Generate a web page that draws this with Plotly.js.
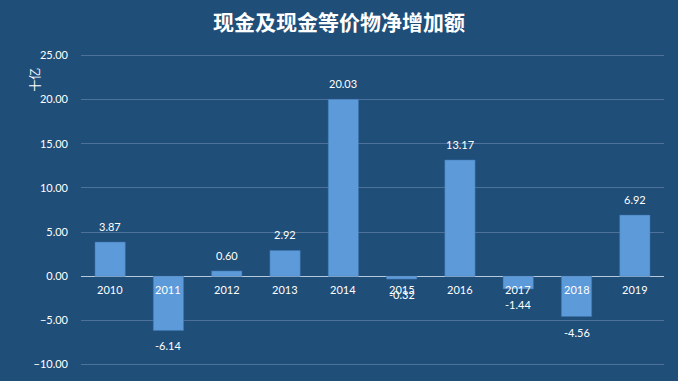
<!DOCTYPE html>
<html>
<head>
<meta charset="utf-8">
<script src="https://cdn.plot.ly/plotly-3.0.1.min.js"></script>
<style>html,body{margin:0;padding:0;background:#1f4e79;}#chart{width:678px;height:381px;}</style>
</head>
<body>
<div id="chart"></div>
<script>
const years = ["2010","2011","2012","2013","2014","2015","2016","2017","2018","2019"];
const values = [3.87, -6.14, 0.60, 2.92, 20.03, -0.32, 13.17, -1.44, -4.56, 6.92];
const yTicks = [-10, -5, 0, 5, 10, 15, 20, 25];
const titleText = "现金及现金等价物净增加额";
const unitText = "十亿";

const labelFont = {family: "Lato, 'Open Sans', sans-serif", size: 11, color: "#ffffff"};

const annotations = [];
years.forEach((yr, i) => {
  annotations.push({
    x: i, y: 0, xref: "x", yref: "y", text: yr, showarrow: false,
    yanchor: "top", yshift: -5, font: labelFont
  });
  const v = values[i];
  annotations.push({
    x: i, y: v, xref: "x", yref: "y", text: v.toFixed(2), showarrow: false,
    yanchor: v >= 0 ? "bottom" : "top", yshift: v >= 0 ? 7 : -7, font: labelFont
  });
});
annotations.push({
  x: -0.098, y: 0.955, xref: "paper", yref: "paper", text: unitText, showarrow: false,
  textangle: -90, font: {family: "'Noto Sans CJK SC', sans-serif", size: 12, color: "#ffffff"}
});

const trace = {
  type: "bar", x: years, y: values,
  marker: {color: "#5d9ad9", line: {color: "#3f74ad", width: 0.5}},
  hoverinfo: "none"
};

const layout = {
  width: 678, height: 381,
  paper_bgcolor: "#1f4e79", plot_bgcolor: "#1f4e79",
  margin: {l: 81, r: 14, t: 51, b: 12},
  bargap: 0.48,
  showlegend: false,
  title: {
    text: "<b>" + titleText + "</b>", x: 0.5, xanchor: "center", y: 0.94, yanchor: "middle",
    font: {family: "'Noto Sans CJK SC', sans-serif", size: 21, color: "#ffffff"}
  },
  xaxis: {
    type: "category", range: [-0.5, 9.5], autorange: false,
    showticklabels: false, showgrid: false, zeroline: false,
    showline: false, ticks: ""
  },
  yaxis: {
    range: [-10.5, 25.5], autorange: false, tickvals: yTicks, tickformat: ".2f",
    showgrid: true, gridcolor: "#4d7198", gridwidth: 1,
    zeroline: true, zerolinecolor: "#b7c9dc", zerolinewidth: 1.2,
    showline: false, ticks: "", ticklen: 0, tickfont: labelFont,
    ticklabelstandoff: 12
  },
  annotations: annotations
};

Plotly.newPlot("chart", [trace], layout, {displayModeBar: false, staticPlot: true});
</script>
</body>
</html>
